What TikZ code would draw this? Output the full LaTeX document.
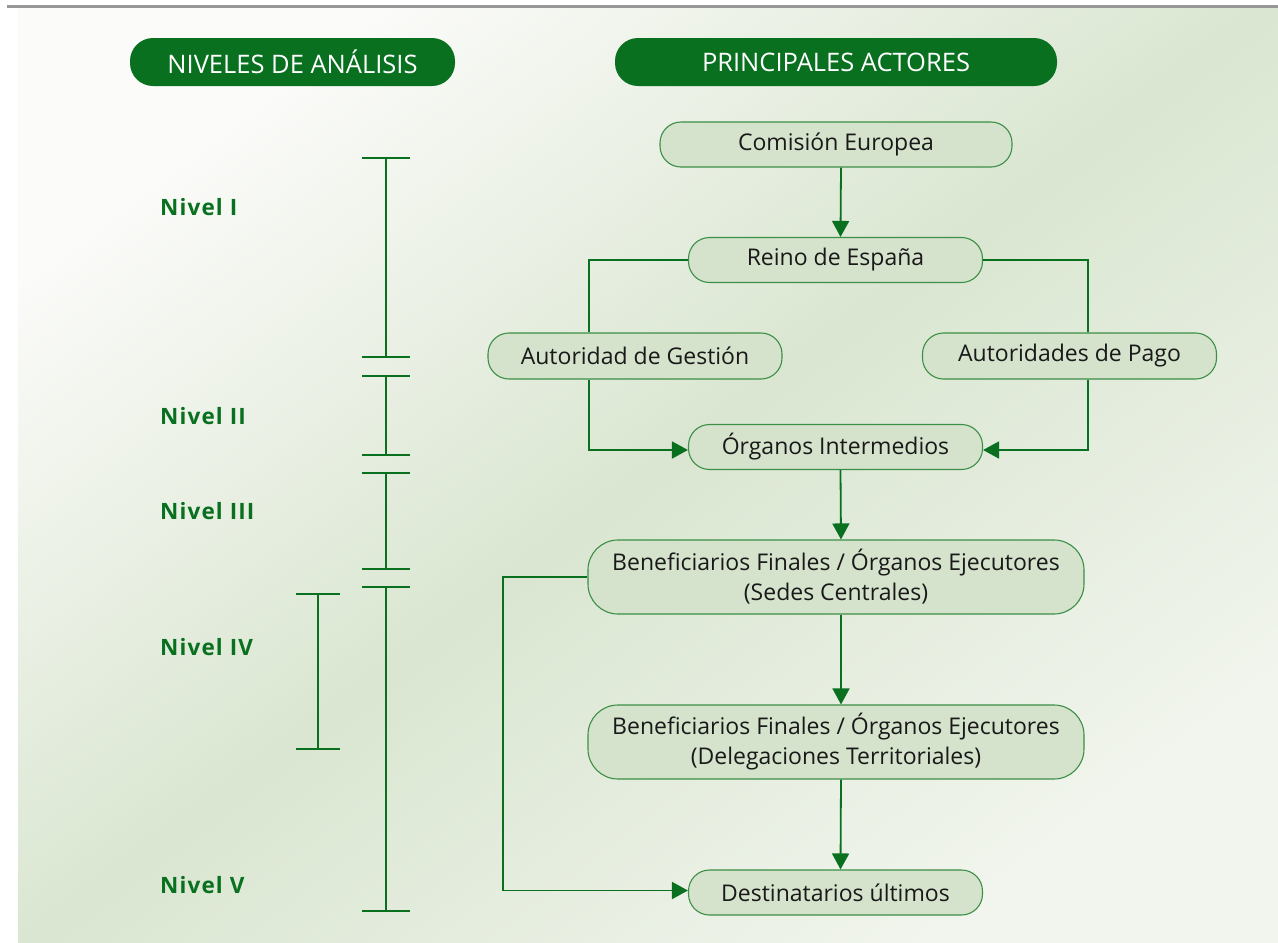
\documentclass[tikz,border=0pt]{standalone}
\usepackage{fontspec}
\setmainfont{Open Sans}
\usetikzlibrary{arrows.meta}
\definecolor{dkgreen}{HTML}{08701F}
\definecolor{boxfill}{HTML}{D5E2CC}
\definecolor{boxline}{HTML}{3C8F46}
\definecolor{bgmid}{HTML}{DAE6D1}
\definecolor{bgpale}{HTML}{FBFBF9}
\definecolor{rulegrey}{HTML}{959895}
\begin{document}
\begin{tikzpicture}[x=1pt,y=-1pt,
  actor/.style={draw=boxline, line width=1.1pt, fill=boxfill, inner sep=0pt,
    rounded corners=21pt, align=center, text=black!90,
    font=\fontsize{23}{30}\selectfont},
  header/.style={fill=dkgreen, rounded corners=23pt, inner sep=0pt, text=white,
    minimum height=48pt, font=\fontsize{25.5}{28}\selectfont},
  level/.style={anchor=west, text=dkgreen, inner sep=0pt,
    font=\bfseries\fontsize{22.5}{26}\selectfont\addfontfeature{LetterSpace=5}},
  link/.style={draw=dkgreen, line width=1.8pt},
  flow/.style={link, -{Triangle[length=16pt,width=17pt]}},
  bar/.style={draw=dkgreen, line width=2.2pt}]

\useasboundingbox (0,0) rectangle (1278,943);

% backdrop panel and top rule
\shade[top color=bgpale, bottom color=bgpale!70!bgmid, middle color=bgmid, shading angle=37]
  (18,8) rectangle (1278,943);
\draw[rulegrey, line width=2.6pt] (7,6.3) -- (1278,6.3);

% column headings
\node[header, minimum width=325pt] (hlev) at (292.5,62) {NIVELES DE ANÁLISIS};
\node[header, minimum width=442pt] (hact) at (836,62) {PRINCIPALES ACTORES};

% analysis levels
\node[level] (n1) at (160,207) {Nivel I};
\node[level] (n2) at (160,416) {Nivel II};
\node[level] (n3) at (160,511) {Nivel III};
\node[level] (n4) at (160,647) {Nivel IV};
\node[level] (n5) at (160,885) {Nivel V};

\foreach \a/\b in {158/357, 376/455, 473/569, 587/911}
  \draw[bar] (362,\a) -- (410,\a) (386,\a) -- (386,\b) (362,\b) -- (410,\b);
\draw[bar] (296,594) -- (340,594) (318,594) -- (318,749) (296,749) -- (340,749);

% actors
\node[actor, minimum width=352pt, minimum height=45pt] (ce) at (836,144.5) {Comisión Europea};
\node[actor, minimum width=294pt, minimum height=45pt] (re) at (835.5,260) {Reino de España};
\node[actor, minimum width=294pt, minimum height=46pt] (ag) at (635,356) {Autoridad de Gestión};
\node[actor, minimum width=294pt, minimum height=46pt] (ap) at (1069.5,356) {Autoridades de Pago};
\node[actor, minimum width=294pt, minimum height=45pt] (oi) at (835.5,447) {Órganos Intermedios};
\node[actor, minimum width=496pt, minimum height=74pt, rounded corners=30pt] (sc) at (836,577)
  {Beneficiarios Finales / Órganos Ejecutores\\(Sedes Centrales)};
\node[actor, minimum width=496pt, minimum height=74pt, rounded corners=30pt] (dt) at (836,742)
  {Beneficiarios Finales / Órganos Ejecutores\\(Delegaciones Territoriales)};
\node[actor, minimum width=294pt, minimum height=45pt] (du) at (835.5,892.5) {Destinatarios últimos};

% relations
\coordinate (dropx) at (503,0);
\draw[flow] ([xshift=5pt]ce.south) -- ([xshift=5pt]re.north);
\draw[link] (re.west) -| ([xshift=-46pt]ag.north);
\draw[link] (re.east) -| ([xshift=18.5pt]ap.north);
\draw[flow] ([xshift=-46pt]ag.south) |- ([yshift=-3pt]oi.west);
\draw[flow] ([xshift=18.5pt]ap.south) |- ([yshift=-3pt]oi.east);
\draw[flow] ([xshift=5pt]oi.south) -- ([xshift=5pt]sc.north);
\draw[flow] ([xshift=5pt]sc.south) -- ([xshift=5pt]dt.north);
\draw[flow] ([xshift=5pt]dt.south) -- ([xshift=5pt]du.north);
\draw[flow] (sc.west) -- (sc.west -| dropx) |- ([yshift=2pt]du.west);
\end{tikzpicture}
\end{document}
